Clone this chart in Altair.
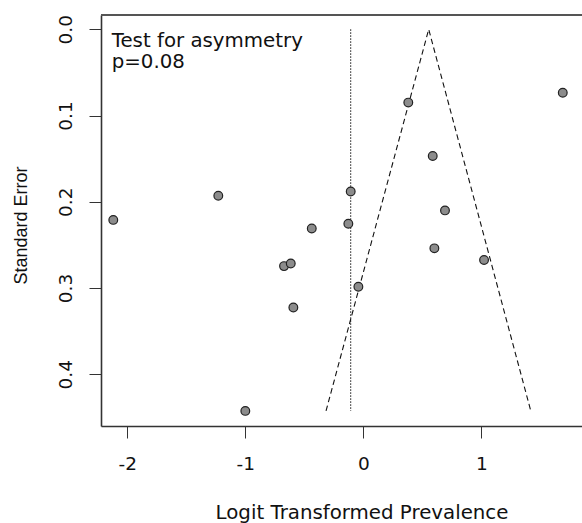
import altair as alt
import pandas as pd

# Study estimates (logit prevalence, standard error)
est_x = [-2.119, -1.229, 1.690, 0.381, 0.588, -0.107, -0.127, -0.437,
         0.692, 0.602, 1.023, -0.672, -0.615, -0.593, -0.042, -1.000]
est_se = [0.221, 0.193, 0.0735, 0.085, 0.147, 0.188, 0.2255, 0.231,
          0.210, 0.254, 0.2676, 0.2746, 0.2715, 0.3225, 0.2986, 0.4425]

# Funnel (pseudo 95% limits) vertices
funnel_x = [-0.316, 0.554, 1.419]
funnel_se = [0.4425, 0.0, 0.4425]
funnel_order = [0, 1, 2]

# Pooled-estimate reference line
ref_x = [-0.107]
ref_se_top = [0.0]
ref_se_bottom = [0.4425]

x_ticks = [-2, -1, 0, 1]
y_ticks = [0.0, 0.1, 0.2, 0.3, 0.4]
annotation_lines = ["Test for asymmetry", "p=0.08"]

x_domain = [-2.223, 1.853]
y_domain = [-0.0166, 0.460]

W, H = 481, 411

pts = pd.DataFrame({"x": est_x, "se": est_se})
fun = pd.DataFrame({"x": funnel_x, "se": funnel_se, "o": funnel_order})
ref = pd.DataFrame({"x": ref_x, "se": ref_se_top, "se2": ref_se_bottom})

x_axis = alt.Axis(
    values=x_ticks, labelExpr="'' + datum.value", grid=False,
    tickSize=12, tickWidth=1, tickColor="#333", domainColor="#333", domainWidth=1.6,
    labelFont="DejaVu Sans", labelFontSize=18.5, labelColor="#111", labelPadding=16,
    title="Logit Transformed Prevalence", titleFont="DejaVu Sans", titleFontSize=19.8,
    titleFontWeight="normal", titleColor="#111", titleX=260.5, titleY=92,
    titleBaseline="alphabetic", titleAlign="center",
)
y_axis = alt.Axis(
    values=y_ticks, format=".1f", grid=False, labelAngle=270,
    labelAlign="center", labelBaseline="alphabetic",
    tickSize=12, tickWidth=1, tickColor="#333", domainColor="#333", domainWidth=1.6,
    labelFont="DejaVu Sans", labelFontSize=18.5, labelColor="#111", labelPadding=18,
    title="Standard Error", titleFont="Liberation Sans", titleFontSize=18,
    titleFontWeight="normal", titleColor="#111", titleAngle=270,
    titleX=-74.3, titleY=210, titleBaseline="alphabetic", titleAlign="center",
)

xs = alt.Scale(domain=x_domain, nice=False, zero=False)
ys = alt.Scale(domain=y_domain, nice=False, zero=False, reverse=True)

points = alt.Chart(pts).mark_point(
    filled=True, shape="circle", size=76, fill="#8c8c8c", stroke="#222",
    strokeWidth=1.2, opacity=1, fillOpacity=1,
).encode(
    x=alt.X("x:Q", scale=xs, axis=x_axis),
    y=alt.Y("se:Q", scale=ys, axis=y_axis),
)

funnel = alt.Chart(fun).mark_line(
    color="#111", strokeWidth=1.1, strokeDash=[5.5, 3.5]
).encode(
    x=alt.X("x:Q", scale=xs, axis=x_axis),
    y=alt.Y("se:Q", scale=ys, axis=y_axis),
    order="o:O",
)

refline = alt.Chart(ref).mark_rule(
    color="#111", strokeWidth=1, strokeDash=[1.5, 1.5]
).encode(
    x=alt.X("x:Q", scale=xs, axis=x_axis),
    y=alt.Y("se:Q", scale=ys, axis=y_axis),
    y2="se2:Q",
)

top_border = alt.Chart(pd.DataFrame({"k": [0]})).mark_rule(
    color="#555", strokeWidth=2
).encode(x=alt.value(0), x2=alt.value(W), y=alt.value(0))

note = alt.Chart(pd.DataFrame({"k": [0]})).mark_text(
    text=annotation_lines, align="left", baseline="alphabetic",
    font="DejaVu Sans", fontSize=19.8, color="#111", lineHeight=21.6,
).encode(x=alt.value(10.7), y=alt.value(31.7))

chart = alt.layer(refline, funnel, points, top_border, note).properties(
    width=W, height=H,
    autosize=alt.AutoSizeParams(type="none"),
    padding={"left": 101, "top": 15, "right": 0, "bottom": 97},
).configure_view(stroke=None).configure(background="white")

chart.save("out.html", embed_options={"renderer": "svg", "actions": False})
